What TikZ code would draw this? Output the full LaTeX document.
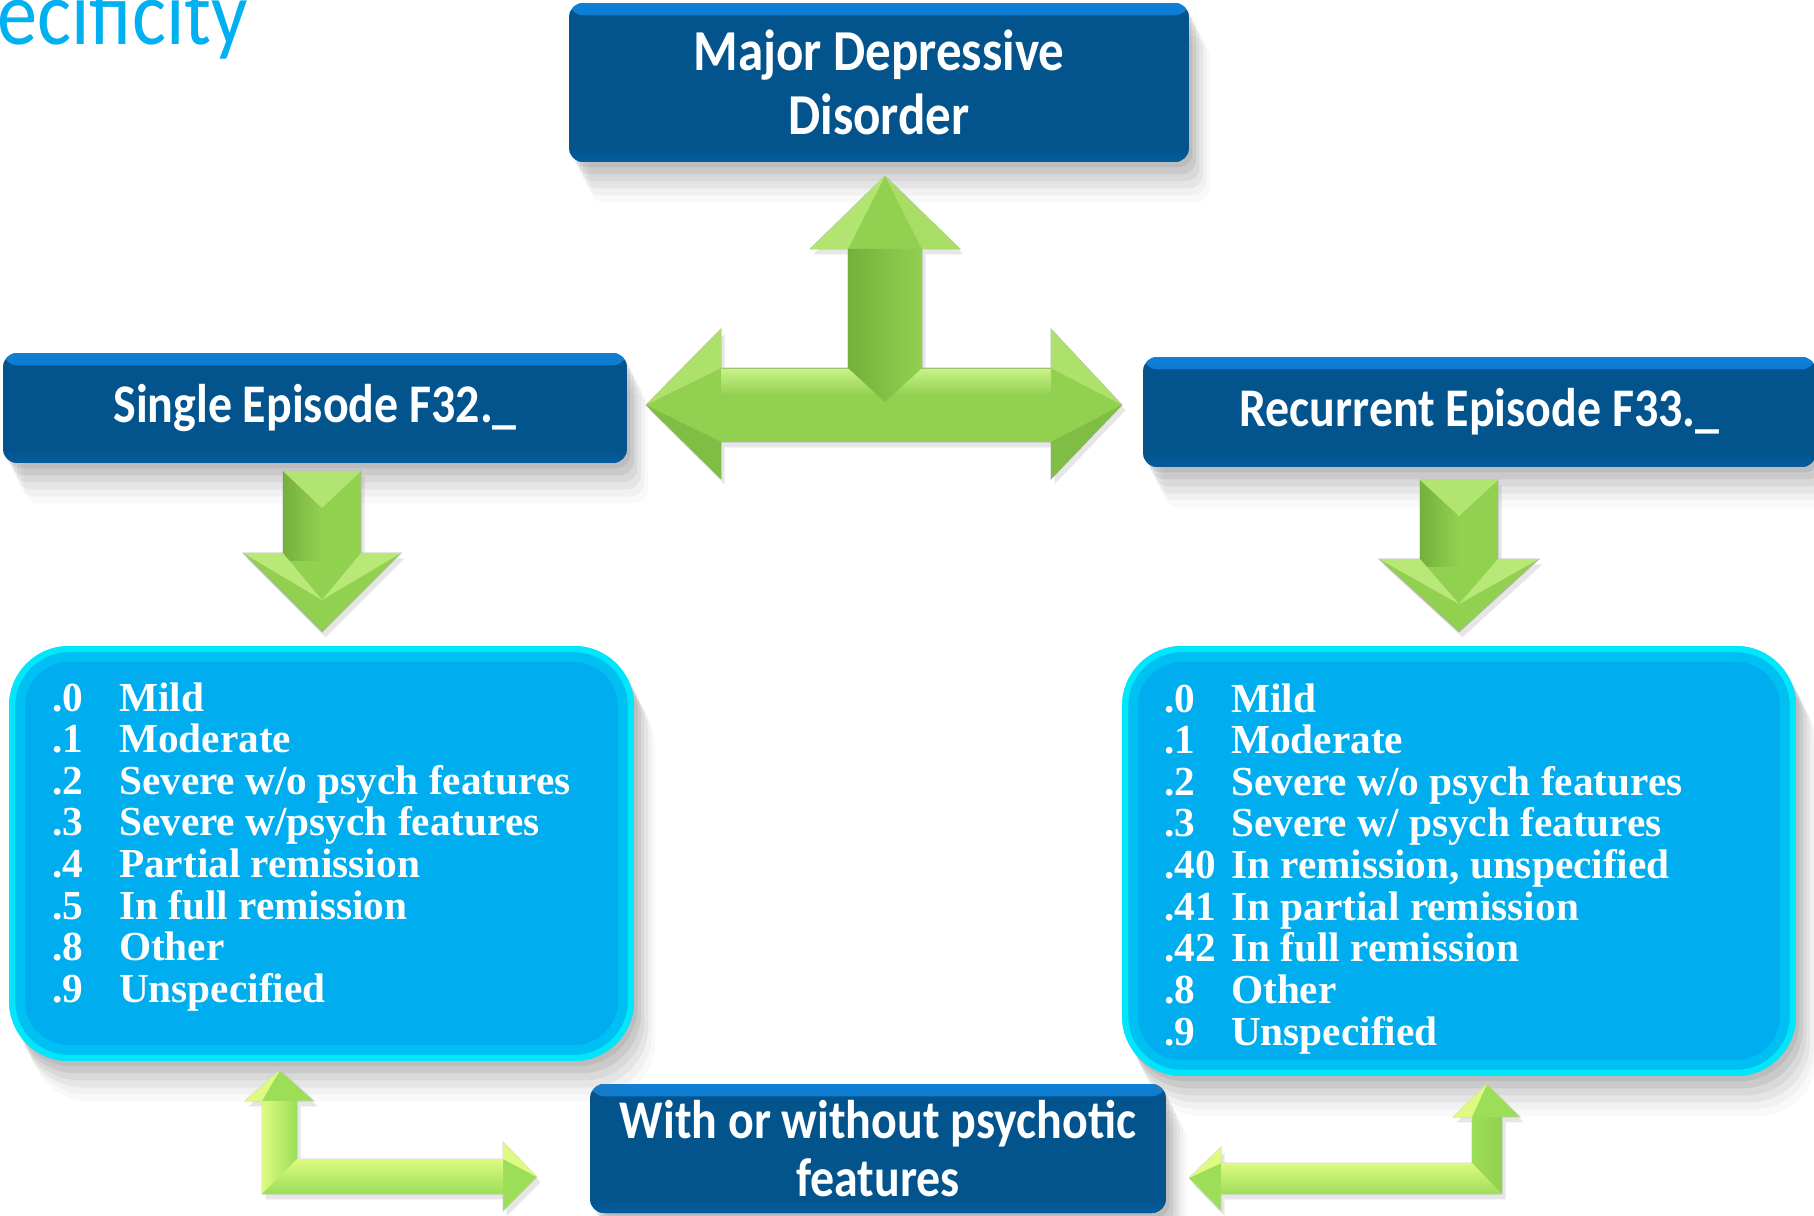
\documentclass[tikz,border=0pt]{standalone}
\usepackage{fontspec}
\newfontfamily\headfont[FakeStretch=0.88]{Carlito}
\newfontfamily\listfont{Liberation Serif}
\usetikzlibrary{shadows}

\definecolor{headblue}{RGB}{3,84,141}
\definecolor{headedge}{RGB}{14,128,215}
\definecolor{listblue}{RGB}{0,174,239}
\definecolor{listglow}{RGB}{0,245,255}
\definecolor{arrowgreen}{RGB}{146,208,80}
\definecolor{arrowlight}{RGB}{200,242,135}
\definecolor{arrowdark}{RGB}{116,176,60}
\definecolor{lgreen}{RGB}{156,222,88}
\definecolor{lyellow}{RGB}{222,250,130}
\definecolor{titlecyan}{RGB}{0,176,240}

\begin{document}
\begin{tikzpicture}[x=0.02cm, y=-0.02cm,
	softshadow/.style={drop shadow={shadow xshift=2pt, shadow yshift=-3pt, opacity=.14, fill=black!60},
		drop shadow={shadow xshift=4pt, shadow yshift=-7pt, opacity=.12, fill=black!60},
		drop shadow={shadow xshift=6pt, shadow yshift=-11pt, opacity=.10, fill=black!60},
		drop shadow={shadow xshift=8pt, shadow yshift=-15pt, opacity=.08, fill=black!60},
		drop shadow={shadow xshift=10pt, shadow yshift=-19pt, opacity=.06, fill=black!60},
		drop shadow={shadow xshift=12pt, shadow yshift=-23pt, opacity=.04, fill=black!60}},
	headbox/.style={rectangle, rounded corners=8pt, fill=headblue, text=white, inner sep=0pt, align=center, softshadow,
		path picture={
			\shade[top color=headedge, bottom color=headblue] (path picture bounding box.north west) rectangle ([yshift=-7pt]path picture bounding box.north east);
			\shade[top color=headblue, bottom color=headblue!80!headedge] ([yshift=8pt]path picture bounding box.south west) rectangle (path picture bounding box.south east);}},
	listbox/.style={rectangle, rounded corners=34pt, fill=listblue, inner sep=0pt, softshadow,
		path picture={
			\draw[listglow, line width=18pt, opacity=.25, rounded corners=34pt] (path picture bounding box.south west) rectangle (path picture bounding box.north east);
			\draw[listglow, line width=7pt, opacity=.75, rounded corners=34pt] (path picture bounding box.south west) rectangle (path picture bounding box.north east);}},
	listtext/.style={text=white, inner sep=0pt, anchor=base west, font=\listfont\bfseries\fontsize{23.5}{23.7}\selectfont},
	arrowbody/.style={fill=arrowgreen, draw=black!30, line width=0.4pt,
		drop shadow={shadow xshift=2pt, shadow yshift=-3pt, opacity=.2, fill=black!50}},
	lbody/.style={fill=lgreen, draw=black!20, line width=0.4pt,
		drop shadow={shadow xshift=2pt, shadow yshift=-3pt, opacity=.2, fill=black!50}}]

	\useasboundingbox (0,0) rectangle (1814,1216);

	\node[text=titlecyan, inner sep=0pt, anchor=base west, font=\headfont\fontsize{52}{52}\selectfont] (title) at (-3,45) {ecificity};

	% boxes
	\node[headbox, minimum width=12.4cm, minimum height=3.18cm, font=\headfont\bfseries\fontsize{33}{36.4}\selectfont] (mdd) at (879,82.5) {Major Depressive\\Disorder};
	\node[headbox, minimum width=12.48cm, minimum height=2.2cm, font=\headfont\bfseries\fontsize{31}{33}\selectfont] (single) at (315,408) {Single Episode F32.\_};
	\node[headbox, minimum width=13.46cm, minimum height=2.2cm, font=\headfont\bfseries\fontsize{31}{33}\selectfont] (recurrent) at (1479.5,412) {Recurrent Episode F33.\_};
	\node[headbox, minimum width=11.52cm, minimum height=2.58cm, font=\headfont\bfseries\fontsize{31}{33}\selectfont] (psychotic) at (878,1148.5) {With or without psychotic\\features};

	\node[listbox, minimum width=12.5cm, minimum height=8.3cm] (singlelist) at (321.5,853.5) {};
	\node[listbox, minimum width=13.48cm, minimum height=8.6cm] (recurrentlist) at (1459,861) {};

	\node[listtext] (singlecodes) at (52,711) {\begin{tabular}[t]{@{}p{38pt}@{}l@{}}
		.0 & Mild\\
		.1 & Moderate\\
		.2 & Severe w/o psych features\\
		.3 & Severe w/psych features\\
		.4 & Partial remission\\
		.5 & In full remission\\
		.8 & Other\\
		.9 & Unspecified
	\end{tabular}};
	\node[listtext] (recurrentcodes) at (1164,712) {\begin{tabular}[t]{@{}p{38pt}@{}l@{}}
		.0 & Mild\\
		.1 & Moderate\\
		.2 & Severe w/o psych features\\
		.3 & Severe w/ psych features\\
		.40 & In remission, unspecified\\
		.41 & In partial remission\\
		.42 & In full remission\\
		.8 & Other\\
		.9 & Unspecified
	\end{tabular}};

	% T arrow between the three top boxes
	\draw[arrowbody] (646,405) -- (721,329) -- (721,368) -- (848,368) -- (848,249) -- (810,249) -- (885,176) -- (960,249) -- (922,249) -- (922,368) -- (1051,368) -- (1051,329) -- (1122,405) -- (1051,479) -- (1051,442) -- (721,442) -- (721,479) -- cycle;
	\shade[top color=arrowlight, bottom color=arrowgreen] (721,369) rectangle (1051,395);
	\shade[left color=arrowdark, right color=arrowgreen] (848,249) -- (922,249) -- (922,368) -- (885,402) -- (848,368) -- cycle;
	\fill[arrowlight!60!arrowgreen] (885,176) -- (810,249) -- (848,249) -- cycle;
	\fill[arrowlight!40!arrowgreen] (885,176) -- (960,249) -- (922,249) -- cycle;
	\fill[arrowlight!50!arrowgreen] (646,405) -- (721,329) -- (721,368) -- cycle;
	\fill[arrowdark!60!arrowgreen] (646,405) -- (721,479) -- (721,442) -- cycle;
	\fill[arrowlight!50!arrowgreen] (1122,405) -- (1051,329) -- (1051,368) -- cycle;
	\fill[arrowdark!60!arrowgreen] (1122,405) -- (1051,479) -- (1051,442) -- cycle;

	% down arrows
	\draw[arrowbody] (283,471) -- (361,471) -- (361,553) -- (401,553) -- (322,632) -- (243,553) -- (283,553) -- cycle;
	\shade[left color=arrowdark, right color=arrowgreen] (283,471) rectangle (322,560);
	\fill[arrowlight!60!arrowgreen] (283,471) -- (361,471) -- (322,508) -- cycle;
	\fill[arrowlight!70!arrowgreen] (243,553) -- (283,553) -- (322,600) -- cycle;
	\fill[arrowlight!70!arrowgreen] (401,553) -- (361,553) -- (322,600) -- cycle;

	\draw[arrowbody] (1420,480) -- (1498,480) -- (1498,559) -- (1539,559) -- (1459,632) -- (1379,559) -- (1420,559) -- cycle;
	\shade[left color=arrowdark, right color=arrowgreen] (1420,480) rectangle (1459,566);
	\fill[arrowlight!60!arrowgreen] (1420,480) -- (1498,480) -- (1459,516) -- cycle;
	\fill[arrowlight!70!arrowgreen] (1379,559) -- (1420,559) -- (1459,604) -- cycle;
	\fill[arrowlight!70!arrowgreen] (1539,559) -- (1498,559) -- (1459,604) -- cycle;

	% L arrows next to the bottom box
	\draw[lbody] (262,1194) -- (262,1101) -- (245,1101) -- (280,1070) -- (314,1101) -- (297,1101) -- (297,1159) -- (503,1159) -- (503,1142) -- (537,1177) -- (503,1211) -- (503,1194) -- cycle;
	\shade[left color=lyellow, right color=lgreen] (262,1101) -- (297,1101) -- (297,1159) -- (262,1194) -- cycle;
	\shade[top color=lyellow, bottom color=lgreen] (262,1194) -- (297,1159) -- (503,1159) -- (503,1194) -- cycle;
	\fill[lyellow] (280,1070) -- (245,1101) -- (262,1101) -- cycle;
	\fill[lyellow] (537,1177) -- (503,1142) -- (503,1159) -- cycle;

	\draw[lbody] (1502,1194) -- (1502,1117) -- (1520,1117) -- (1487,1084) -- (1453,1117) -- (1472,1117) -- (1472,1163) -- (1221,1163) -- (1221,1147) -- (1189,1178) -- (1221,1211) -- (1221,1194) -- cycle;
	\shade[left color=lgreen, right color=arrowgreen] (1472,1117) -- (1502,1117) -- (1502,1194) -- (1472,1163) -- cycle;
	\shade[top color=lyellow, bottom color=lgreen] (1221,1163) -- (1472,1163) -- (1502,1194) -- (1221,1194) -- cycle;
	\fill[lyellow] (1487,1084) -- (1453,1117) -- (1472,1117) -- cycle;
	\fill[lyellow] (1189,1178) -- (1221,1147) -- (1221,1163) -- cycle;
\end{tikzpicture}
\end{document}
